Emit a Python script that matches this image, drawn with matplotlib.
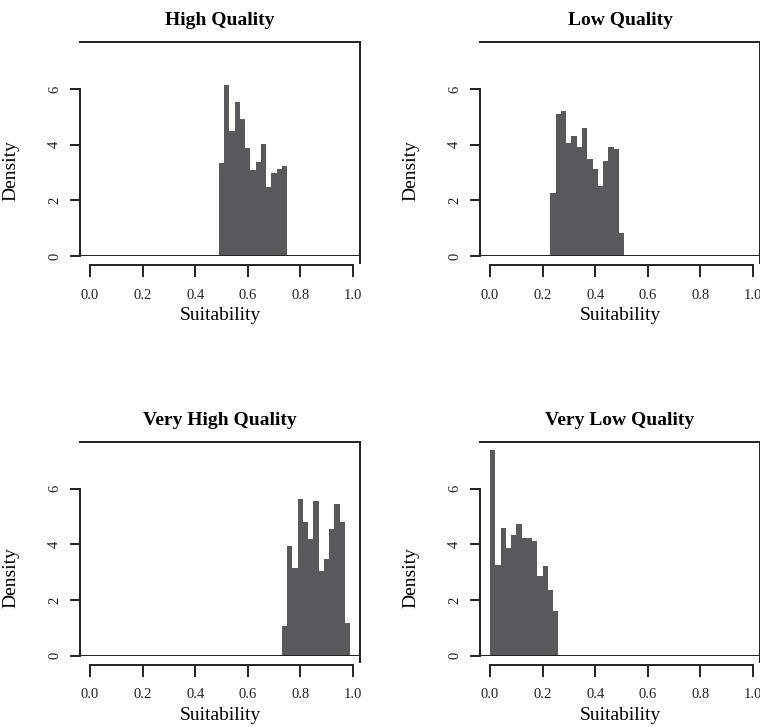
import numpy as np
import matplotlib
matplotlib.use("Agg")
import matplotlib.pyplot as plt

plt.rcParams['font.family'] = ['Liberation Serif', 'DejaVu Serif']

# histogram densities (bin width 0.02)
titles = ["High Quality", "Low Quality", "Very High Quality", "Very Low Quality"]
starts = [0.49, 0.23, 0.73, 0.0]
width = 0.02

high = [3.33, 6.15, 4.50, 5.54, 4.94, 3.90, 3.09, 3.37, 4.03, 2.47, 2.99, 3.14, 3.25]
low = [2.25, 5.10, 5.23, 4.08, 4.32, 3.93, 4.62, 3.48, 3.13, 2.52, 3.42, 3.93, 3.85, 0.82]
very_high = [1.06, 3.95, 3.16, 5.63, 4.81, 4.18, 5.57, 3.04, 3.47, 4.55, 5.45, 4.81, 1.18]
very_low = [7.40, 3.27, 4.60, 3.87, 4.33, 4.72, 4.21, 4.21, 4.13, 2.86, 3.21, 2.35, 1.60]
densities = [high, low, very_high, very_low]

x_ticks = [0.0, 0.2, 0.4, 0.6, 0.8, 1.0]
y_ticks = [0, 2, 4, 6]

W, H = 760, 727
fig = plt.figure(figsize=(W / 100, H / 100), dpi=100)

# axes boxes in pixels: (left, top)
boxes = [(80, 42), (480, 42), (80, 441.5), (480, 441.5)]
bw, bh = 280, 214
ylab_y = [0.40, 0.40, 0.365, 0.365]

for k in range(4):
    left, top = boxes[k]
    ax = fig.add_axes([left / W, (H - top - bh) / H, bw / W, bh / H])
    dens = densities[k]
    edges = starts[k] + width * np.arange(len(dens))
    ax.bar(edges, dens, width=width, align='edge', color='#58595c', linewidth=0)

    ax.set_xlim(-0.038, 1.027)
    ax.set_ylim(0, 7.7)
    ax.axhline(0, color='#222222', lw=1.4, zorder=3)

    for s in ['top', 'right', 'left', 'bottom']:
        ax.spines[s].set_color('#222222')
        ax.spines[s].set_linewidth(1.4)
    ax.spines['left'].set_bounds(0, 6)
    ax.spines['right'].set_bounds(-0.25, 7.7)
    ax.spines['bottom'].set_bounds(0, 1)
    ax.spines['bottom'].set_position(('outward', 6.5))

    ax.set_xticks(x_ticks)
    ax.set_xticklabels([f"{v:.1f}" for v in x_ticks])
    ax.set_yticks(y_ticks)
    ax.set_yticklabels([str(v) for v in y_ticks], rotation=90, va='center')
    ax.tick_params(axis='x', direction='out', length=8.5, width=1.4,
                   pad=8.5, labelsize=10.5, colors='#222222')
    ax.tick_params(axis='y', direction='out', length=7, width=1.4,
                   pad=6.5, labelsize=10.5, colors='#222222')

    ax.set_title(titles[k], fontsize=14, fontweight='bold', pad=12)
    ax.set_xlabel("Suitability", fontsize=14, labelpad=4)
    ax.set_ylabel("Density", fontsize=14)
    ax.yaxis.set_label_coords(-0.215, ylab_y[k])

fig.savefig('out.png', dpi=100)
